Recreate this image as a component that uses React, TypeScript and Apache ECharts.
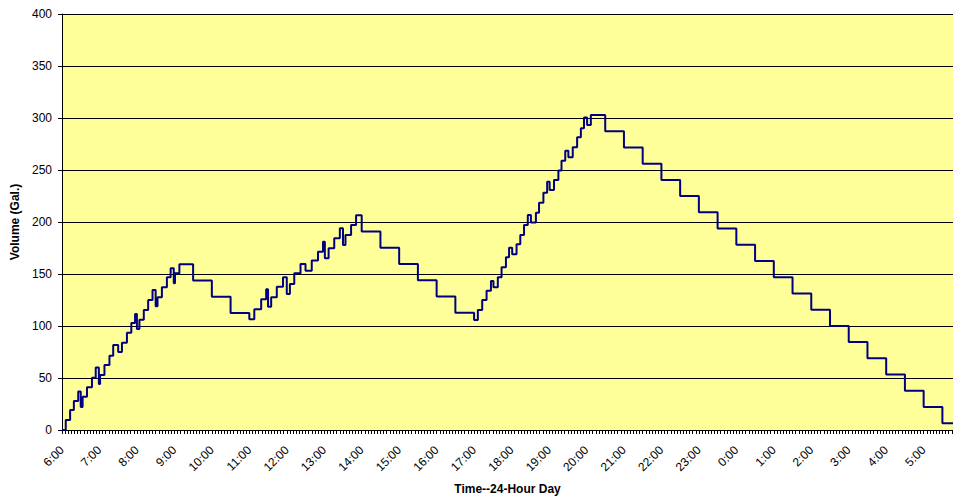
import React, { useEffect, useRef } from 'react';
import * as echarts from 'echarts';

// x = minutes after 6:00, y = volume in gallons (step changes)
const riseOne: [number, number][] = [
  [0, 0], [6, 9.6], [13, 19.2], [19, 28], [26, 37], [30, 22], [33, 32], [40, 41],
  [48, 50.3], [54, 60], [59, 44.3], [61, 53], [68, 62.5], [76, 71.5], [82, 81.7],
  [90, 75], [96, 84], [104, 93.6], [111, 103], [117, 111.5], [120, 97], [124, 106],
  [131, 115.4], [138, 125], [145, 134.6], [150, 119], [153, 127.6], [160, 137.2],
  [168, 146.8], [174, 155.5], [179, 141], [181, 150.7], [188, 159.3],
];
const fallOne: [number, number][] = [[210, 143.7], [240, 128.1], [270, 112.5]];
const riseTwo: [number, number][] = [
  [300, 106.4], [308, 116], [319, 125.7], [327, 135.3], [330, 118.6], [335, 127.6],
  [344, 137.8], [354, 146.8], [360, 130.8], [365, 140.4], [372, 150.7], [382, 159.7],
  [390, 153.2], [400, 162.9], [410, 171.5], [418, 181.1], [421, 165.1], [427, 174.7],
  [436, 184.3], [445, 193.9], [450, 177.9], [454, 187.5], [463, 197.1], [471, 206.4],
];
const fallTwo: [number, number][] = [
  [480, 190.8], [510, 175.2], [540, 159.6], [570, 144], [600, 128.4], [630, 112.8],
];
const riseThree: [number, number][] = [
  [660, 105.8], [666, 115.4], [673, 125], [680, 134], [687, 143.3], [691, 137.2],
  [698, 146.8], [704, 156.4], [711, 166], [716, 175.3], [721, 168.9], [728, 178.5],
  [734, 187.5], [740, 197.1], [746, 206.7], [751, 199.4], [759, 209], [764, 218.6],
  [771, 228.2], [777, 238.8], [781, 230.8], [788, 240.4], [795, 249.4], [800, 259],
  [806, 268.6], [811, 262.2], [818, 271.8], [825, 281.4], [831, 290.1], [836, 300.6],
  [841, 293.3], [847, 302.9],
];
const fallThree: [number, number][] = [
  [870, 287.3], [900, 271.7], [930, 256.1], [960, 240.5], [990, 224.9], [1020, 209.3],
  [1050, 193.7], [1080, 178.1], [1110, 162.5], [1140, 146.9], [1170, 131.3],
  [1200, 115.7], [1230, 100.1], [1260, 84.5], [1290, 68.9], [1320, 53.3],
  [1350, 37.7], [1380, 22.1], [1410, 6.5], [1427, 6.5],
];

const hourLabels = [
  '6:00', '7:00', '8:00', '9:00', '10:00', '11:00', '12:00', '13:00', '14:00', '15:00',
  '16:00', '17:00', '18:00', '19:00', '20:00', '21:00', '22:00', '23:00', '0:00',
  '1:00', '2:00', '3:00', '4:00', '5:00',
];
const axisEndMinute = 1427;
const font = 'Arial, "Liberation Sans", sans-serif';

export default function App() {
  const ref = useRef<HTMLDivElement>(null);
  useEffect(() => {
    const chart = echarts.init(ref.current!, null, { renderer: 'svg' });
    const data = [...riseOne, ...fallOne, ...riseTwo, ...fallTwo, ...riseThree, ...fallThree];
    chart.setOption({
      animation: false,
      backgroundColor: '#ffffff',
      textStyle: { fontFamily: font },
      grid: {
        left: 62, right: 0, top: 14, bottom: 67,
        containLabel: false, outerBoundsMode: 'none',
        show: true, backgroundColor: '#FFFF99', borderWidth: 0,
      },
      xAxis: {
        type: 'value', min: 0, max: axisEndMinute, interval: 60,
        name: 'Time--24-Hour Day', nameLocation: 'middle', nameGap: 53,
        nameTextStyle: { fontWeight: 'bold', fontSize: 12, color: '#000', fontFamily: font },
        axisLine: { show: true, onZero: false, lineStyle: { color: '#000', width: 1 } },
        axisTick: { show: true, length: 4, lineStyle: { color: '#000' } },
        minorTick: { show: true, splitNumber: 12, length: 4, lineStyle: { color: '#000' } },
        splitLine: { show: false },
        axisLabel: {
          rotate: 45, margin: 18, fontSize: 12, color: '#000', fontFamily: font,
          showMaxLabel: false,
          formatter: (v: number) => (v % 60 === 0 ? hourLabels[v / 60] ?? '' : ''),
        },
      },
      yAxis: {
        type: 'value', min: 0, max: 400, interval: 50,
        name: 'Volume (Gal.)', nameLocation: 'middle', nameGap: 40,
        nameTextStyle: { fontWeight: 'bold', fontSize: 12, color: '#000', fontFamily: font },
        axisLine: { show: true, lineStyle: { color: '#000', width: 1 } },
        axisTick: { show: true, length: 4, lineStyle: { color: '#000' } },
        splitLine: { show: true, lineStyle: { color: '#000', width: 1 } },
        axisLabel: { fontSize: 12, color: '#000', margin: 10, fontFamily: font },
      },
      series: [
        {
          type: 'line', step: 'end', data, symbol: 'none', showSymbol: false,
          lineStyle: { color: '#000080', width: 2 },
        },
      ],
    });
    return () => chart.dispose();
  }, []);
  return (
    <div
      ref={ref}
      style={{ position: 'absolute', left: 0, top: 0, width: 953, height: 497 }}
    />
  );
}
